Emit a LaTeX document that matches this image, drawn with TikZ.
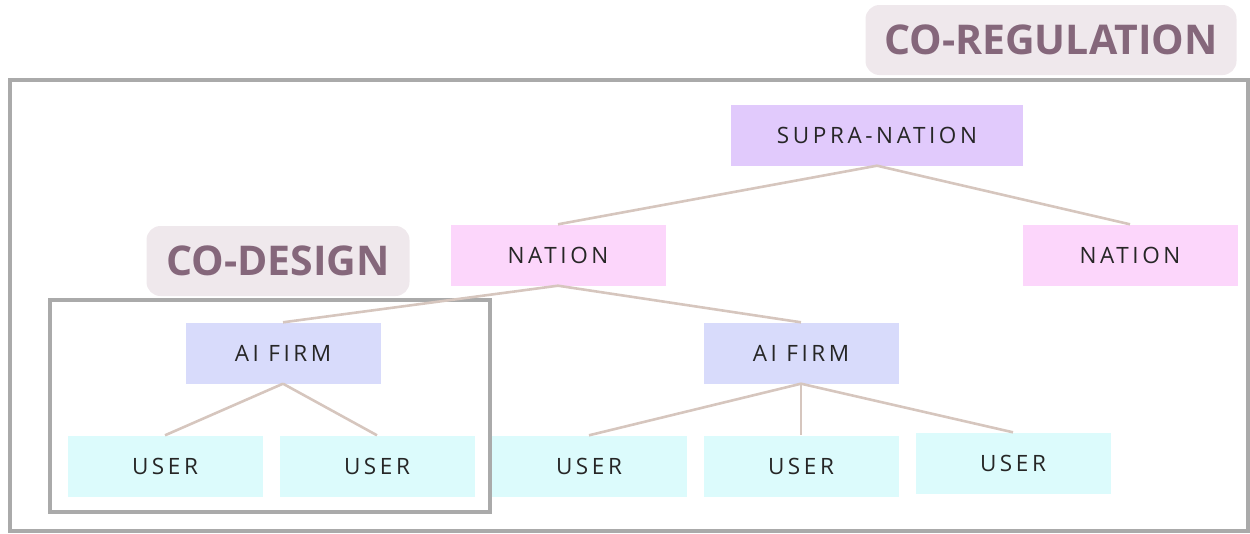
\documentclass[tikz,border=0pt]{standalone}
\usepackage{fontspec}
\setmainfont{Open Sans}
\newfontfamily\labelfont[LetterSpace=16]{Open Sans}
\newfontfamily\titlefont{Open Sans}[UprightFont=* Bold]
\definecolor{edgegray}{HTML}{AAAAAA}
\definecolor{linktan}{HTML}{D6C6BE}
\definecolor{tagfill}{HTML}{EFE8EC}
\definecolor{tagtext}{HTML}{85677B}
\definecolor{supracol}{HTML}{E1CAFC}
\definecolor{nationcol}{HTML}{FCD6FB}
\definecolor{firmcol}{HTML}{D8DBFB}
\definecolor{usercol}{HTML}{DCFBFC}
\begin{document}
\begin{tikzpicture}[x=1pt,y=-1pt,
  unit/.style={minimum width=#1, minimum height=61pt, inner sep=0pt,
    font=\labelfont\fontsize{22.5}{25}\selectfont, text=black!85},
  unit/.default=195pt,
  supra/.style={unit=292pt, fill=supracol},
  nation/.style={unit=215pt, fill=nationcol},
  firm/.style={unit=195pt, fill=firmcol},
  user/.style={unit=195pt, fill=usercol},
  link/.style={draw=linktan, line width=2.6pt},
  frame/.style={draw=edgegray, line width=3.8pt},
  tag/.style={fill=tagfill, rounded corners=14pt, inner sep=0pt,
    text=tagtext, font=\titlefont\fontsize{41}{45}\selectfont}]
\useasboundingbox (0,0) rectangle (1250,533);

% outer and inner frames
\draw[frame] (10,80) rectangle (1248,531);
\draw[frame] (50,300) rectangle (490,512);

% group tags
\node[tag, minimum width=371pt, minimum height=70pt] (coreg) at (1051,40) {CO-REGULATION};
\node[tag, minimum width=263pt, minimum height=70pt] (codes) at (278,261) {CO-DESIGN};

% hierarchy
\node[supra]  (sn) at (877,135) {SUPRA-NATION};
\node[nation] (n1) at (558,255) {NATION};
\node[nation] (n2) at (1130,255) {NATION};
\node[firm]   (f1) at (283,353) {AI FIRM};
\node[firm]   (f2) at (801,353) {AI FIRM};
\node[user]   (u1) at (165,466) {USER};
\node[user]   (u2) at (377,466) {USER};
\node[user]   (u3) at (589,466) {USER};
\node[user]   (u4) at (801,466) {USER};
\node[user]   (u5) at (1013,463) {USER};

% connectors
\draw[link] (sn.south) -- (n1.north);
\draw[link] (sn.south) -- (n2.north);
\draw[link] (n1.south) -- (f1.north);
\draw[link] (n1.south) -- (f2.north);
\draw[link] (f1.south) -- (u1.north);
\draw[link] (f1.south) -- (u2.north);
\draw[link] (f2.south) -- (u3.north);
\draw[link] (f2.south) -- (u4.north);
\draw[link] (f2.south) -- (u5.north);
\end{tikzpicture}
\end{document}
